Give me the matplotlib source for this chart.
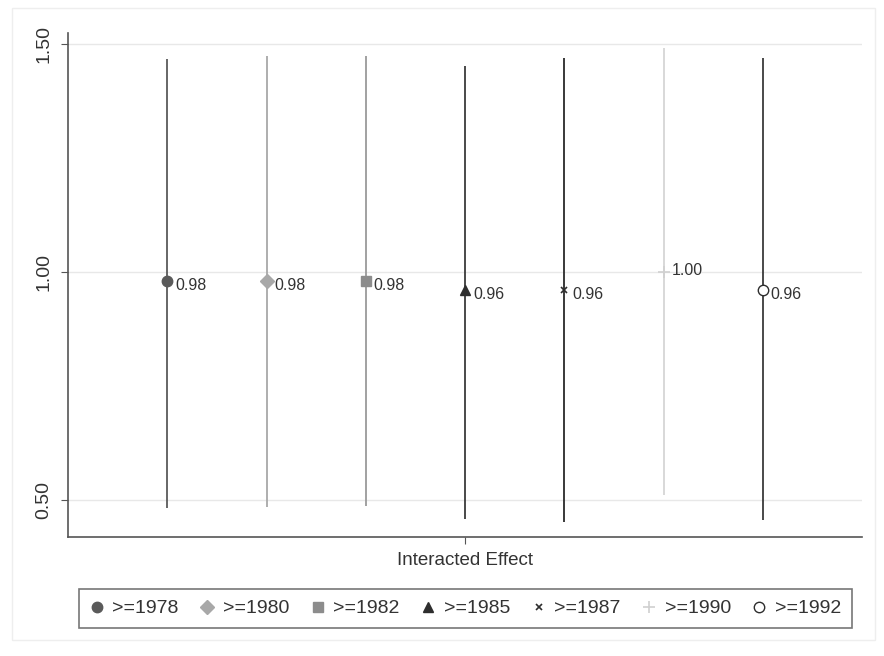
import matplotlib
matplotlib.use("Agg")
import matplotlib.pyplot as plt
from matplotlib.patches import FancyBboxPatch

plt.rcParams["font.family"] = ["Liberation Sans", "DejaVu Sans"]

# Interacted-effect estimates with confidence intervals by cohort cutoff
labels = [">=1978", ">=1980", ">=1982", ">=1985", ">=1987", ">=1990", ">=1992"]
estimates = [0.98, 0.98, 0.98, 0.96, 0.96, 1.00, 0.96]
ci_low = [0.482, 0.485, 0.487, 0.458, 0.452, 0.511, 0.456]
ci_high = [1.467, 1.474, 1.474, 1.452, 1.469, 1.491, 1.469]

markers = ["o", "D", "s", "^", "x", "+", "o"]
colors = ["#5a5a5a", "#a8a8a8", "#8c8c8c", "#2e2e2e", "#2e2e2e", "#d0d0d0", "#2e2e2e"]
line_colors = ["#5a5a5a", "#a8a8a8", "#9a9a9a", "#3a3a3a", "#2a2a2a", "#d6d6d6", "#3a3a3a"]
face = [None, None, None, None, None, None, "white"]
msizes = [7.5, 7, 7.5, 7.5, 5, 8, 7.5]

fig = plt.figure(figsize=(8.84, 6.56), dpi=100)
fig.patch.set_facecolor("white")

# faint outer graph region border
fig.patches.append(FancyBboxPatch((12 / 884, 1 - 640 / 656), 863 / 884, 632 / 656,
                                  boxstyle="square,pad=0", transform=fig.transFigure,
                                  fill=False, edgecolor="#eeeeee", linewidth=1.0))

ax = fig.add_axes([68 / 884, 1 - 537 / 656, (862 - 68) / 884, (537 - 33) / 656])
ax.set_xlim(0, 8)
ax.set_ylim(0.419, 1.524)

for yv in [0.5, 1.0, 1.5]:
    ax.axhline(yv, color="#e8e8e8", linewidth=1.0, zorder=0)

handles = []
for i, lab in enumerate(labels):
    x = i + 1
    ax.vlines(x, ci_low[i], ci_high[i], color=line_colors[i], linewidth=1.3, zorder=2)
    fc = face[i] if face[i] else colors[i]
    h, = ax.plot([x], [estimates[i]], linestyle="none", marker=markers[i],
                 markersize=msizes[i], color=colors[i], markerfacecolor=fc,
                 markeredgecolor=colors[i], markeredgewidth=1.2 if markers[i] in "x+" else 1.0,
                 zorder=3, label=lab)
    handles.append(h)
    dy = 0.003 if estimates[i] == 1.00 else -0.009
    ax.text(x + 0.08, estimates[i] + dy, f"{estimates[i]:.2f}", fontsize=11.5,
            color="#333333", va="center", ha="left")

ax.set_yticks([0.5, 1.0, 1.5])
ax.set_yticklabels(["0.50", "1.00", "1.50"], rotation=90, va="center", fontsize=14,
                   color="#333333")
ax.set_xticks([4])
ax.set_xticklabels([""])
ax.tick_params(axis="both", direction="out", length=5, color="#555555")
ax.tick_params(axis="y", pad=6)
ax.set_xlabel("Interacted Effect", fontsize=13.5, color="#333333", labelpad=2)

for s in ["top", "right"]:
    ax.spines[s].set_visible(False)
for s in ["left", "bottom"]:
    ax.spines[s].set_color("#555555")
    ax.spines[s].set_linewidth(1.2)

leg = fig.legend(handles=handles, labels=labels, loc="center",
                 bbox_to_anchor=(465.5 / 884, 1 - 608.5 / 656), ncol=7, fontsize=14,
                 frameon=True, fancybox=False, handlelength=0.7, handletextpad=0.45,
                 columnspacing=1.12, borderpad=0.55, borderaxespad=0.0)
leg.get_frame().set_edgecolor("#555555")
leg.get_frame().set_linewidth(1.2)
for t in leg.get_texts():
    t.set_color("#333333")

fig.savefig("out.png", dpi=100, facecolor="white")
